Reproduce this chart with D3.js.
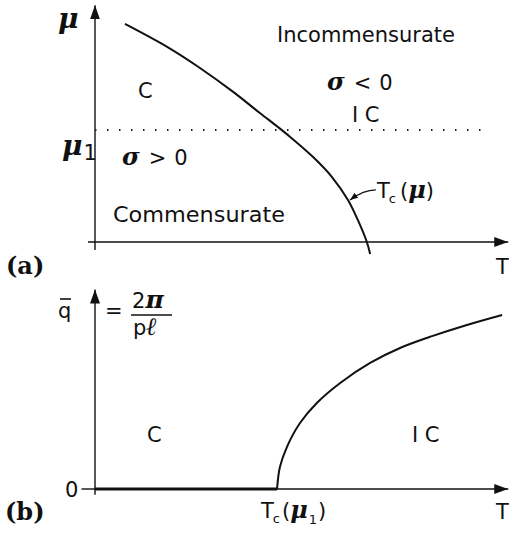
<!DOCTYPE html>
<html>
<head>
<meta charset="utf-8">
<script src="https://cdn.jsdelivr.net/npm/d3@7"></script>
<style>
  body { margin: 0; background: #fff; }
  svg text { fill: #111; }
  .sans { font-family: "DejaVu Sans", sans-serif; font-size: 21px; }
  .math { font-family: "DejaVu Serif", serif; font-style: italic; font-weight: bold; }
  .panel { font-family: "DejaVu Serif", serif; font-weight: bold; font-size: 24px; }
</style>
</head>
<body>
<div id="chart"></div>
<script>
// panel (a): phase boundary T_c(mu)
const curveA_T  = [0.073, 0.176, 0.256, 0.337, 0.402, 0.446, 0.476, 0.532, 0.578, 0.617, 0.641, 0.663, 0.671];
const curveA_mu = [0.940, 0.841, 0.750, 0.647, 0.556, 0.496, 0.453, 0.366, 0.280, 0.181, 0.095, 0.000, -0.052];
const mu1 = 0.483;

// panel (b): wave vector q(T) at mu = mu1
const curveB_T = [0.444, 0.451, 0.468, 0.500, 0.541, 0.598, 0.671, 0.744, 0.824, 0.907, 0.993];
const curveB_q = [0.000, 0.116, 0.222, 0.349, 0.455, 0.561, 0.667, 0.746, 0.810, 0.868, 0.921];
const TcMu1 = 0.444;

const width = 509, height = 537;
const svg = d3.select("#chart").append("svg")
    .attr("width", width).attr("height", height);

// arrowheads
const defs = svg.append("defs");
defs.append("marker")
    .attr("id", "arr")
    .attr("markerUnits", "userSpaceOnUse")
    .attr("viewBox", "0 0 14 10")
    .attr("refX", 14).attr("refY", 5)
    .attr("markerWidth", 14).attr("markerHeight", 10)
    .attr("orient", "auto")
  .append("path").attr("d", "M0,0 L14,5 L0,10 Z").attr("fill", "#111");
defs.append("marker")
    .attr("id", "arrSmall")
    .attr("markerUnits", "userSpaceOnUse")
    .attr("viewBox", "0 0 8 6")
    .attr("refX", 8).attr("refY", 3)
    .attr("markerWidth", 8).attr("markerHeight", 6)
    .attr("orient", "auto")
  .append("path").attr("d", "M0,0 L8,3 L0,6 Z").attr("fill", "#111");

const x = d3.scaleLinear().domain([0, 1]).range([95, 505]);
const yA = d3.scaleLinear().domain([0, 1]).range([242, 10]);
const yB = d3.scaleLinear().domain([0, 1]).range([489, 300]);

const line = (ys) => d3.line().x(d => x(d[0])).y(d => ys(d[1])).curve(d3.curveCatmullRom.alpha(0.5));

// ---------- panel (a) ----------
const gA = svg.append("g");
// axes
gA.append("line").attr("x1", x(-0.017)).attr("x2", x(1.008))
    .attr("y1", yA(0)).attr("y2", yA(0))
    .attr("stroke", "#111").attr("stroke-width", 1.4).attr("marker-end", "url(#arr)");
gA.append("line").attr("x1", x(0)).attr("x2", x(0))
    .attr("y1", yA(-0.035)).attr("y2", yA(1.02))
    .attr("stroke", "#111").attr("stroke-width", 1.4).attr("marker-end", "url(#arr)");
// dotted mu1 line
gA.append("line").attr("x1", x(0)).attr("x2", x(0.945))
    .attr("y1", yA(mu1)).attr("y2", yA(mu1))
    .attr("stroke", "#222").attr("stroke-width", 2)
    .attr("stroke-dasharray", "1.5,10.5").attr("stroke-linecap", "butt");
// boundary
gA.append("path").datum(d3.zip(curveA_T, curveA_mu))
    .attr("d", line(yA)).attr("fill", "none")
    .attr("stroke", "#111").attr("stroke-width", 2);

// leader for T_c(mu)
const tip = [curveA_T[9], curveA_mu[9]];
gA.append("path")
    .attr("d", `M${x(0.685)},${yA(0.225)} Q${x(0.655)},${yA(0.225)} ${x(tip[0]) + 2},${yA(tip[1])}`)
    .attr("fill", "none").attr("stroke", "#111").attr("stroke-width", 1.3)
    .attr("marker-end", "url(#arrSmall)");

// labels
gA.append("text").attr("class", "sans").attr("x", 277).attr("y", 42)
    .attr("textLength", 178).attr("lengthAdjust", "spacingAndGlyphs").text("Incommensurate");
gA.append("text").attr("class", "sans").attr("x", 113).attr("y", 222)
    .attr("textLength", 172).attr("lengthAdjust", "spacingAndGlyphs").text("Commensurate");
gA.append("text").attr("class", "sans").attr("x", 138).attr("y", 98).text("C");
gA.append("text").attr("class", "sans").attr("x", 352).attr("y", 122).text("I C");

const sigmaGt = gA.append("text").attr("class", "sans").attr("x", 122).attr("y", 165);
sigmaGt.append("tspan").attr("class", "math").attr("font-size", 24).text("σ");
sigmaGt.append("tspan").attr("dx", 9).text(">");
sigmaGt.append("tspan").attr("dx", 8).text("0");

const sigmaLt = gA.append("text").attr("class", "sans").attr("x", 327).attr("y", 90);
sigmaLt.append("tspan").attr("class", "math").attr("font-size", 24).text("σ");
sigmaLt.append("tspan").attr("dx", 9).text("<");
sigmaLt.append("tspan").attr("dx", 8).text("0");

gA.append("text").attr("class", "math").attr("font-size", 28).attr("x", 58).attr("y", 28).text("μ");
const mu1Lab = gA.append("text").attr("x", 62).attr("y", 155);
mu1Lab.append("tspan").attr("class", "math").attr("font-size", 28).text("μ");
mu1Lab.append("tspan").attr("class", "sans").attr("font-size", 13).attr("dy", 5).attr("dx", 1).text("1");

const tcLab = gA.append("text").attr("class", "sans").attr("x", 377).attr("y", 198);
tcLab.append("tspan").text("T");
tcLab.append("tspan").attr("font-size", 13).attr("dy", 5).attr("dx", -1).text("c");
tcLab.append("tspan").attr("dy", -5).attr("dx", 4).text("(");
tcLab.append("tspan").attr("class", "math").attr("font-size", 24).text("μ");
tcLab.append("tspan").text(")");

gA.append("text").attr("class", "panel").attr("x", 6).attr("y", 274).text("(a)");
gA.append("text").attr("class", "sans").attr("x", 496).attr("y", 274).text("T");

// ---------- panel (b) ----------
const gB = svg.append("g");
gB.append("line").attr("x1", x(0)).attr("x2", x(1.008))
    .attr("y1", yB(0)).attr("y2", yB(0))
    .attr("stroke", "#111").attr("stroke-width", 1.4).attr("marker-end", "url(#arr)");
gB.append("line").attr("x1", x(-0.033)).attr("x2", x(0))
    .attr("y1", yB(0)).attr("y2", yB(0))
    .attr("stroke", "#111").attr("stroke-width", 1.4);
gB.append("line").attr("x1", x(0)).attr("x2", x(0))
    .attr("y1", yB(-0.03)).attr("y2", yB(1.055))
    .attr("stroke", "#111").attr("stroke-width", 1.4).attr("marker-end", "url(#arr)");
// q = 0 in the commensurate phase
gB.append("line").attr("x1", x(0)).attr("x2", x(TcMu1))
    .attr("y1", yB(0)).attr("y2", yB(0))
    .attr("stroke", "#111").attr("stroke-width", 3);
gB.append("path").datum(d3.zip(curveB_T, curveB_q))
    .attr("d", line(yB)).attr("fill", "none")
    .attr("stroke", "#111").attr("stroke-width", 2);

// labels
gB.append("text").attr("class", "sans").attr("x", 58).attr("y", 318).text("q");
gB.append("line").attr("x1", 60).attr("x2", 71).attr("y1", 299).attr("y2", 299)
    .attr("stroke", "#111").attr("stroke-width", 1.6);
gB.append("text").attr("class", "sans").attr("x", 105).attr("y", 318).text("=");
const twoPi = gB.append("text").attr("class", "sans").attr("x", 132).attr("y", 308).attr("font-size", 22);
twoPi.append("tspan").text("2");
twoPi.append("tspan").attr("class", "math").attr("font-size", 25).text("π");
gB.append("line").attr("x1", 131).attr("x2", 172).attr("y1", 315).attr("y2", 315)
    .attr("stroke", "#111").attr("stroke-width", 1.5);
const plLab = gB.append("text").attr("class", "sans").attr("x", 133).attr("y", 335).attr("font-size", 22);
plLab.append("tspan").text("p");
plLab.append("tspan").attr("class", "math").attr("font-size", 25).text("ℓ");

gB.append("text").attr("class", "sans").attr("x", 147).attr("y", 442).text("C");
gB.append("text").attr("class", "sans").attr("x", 412).attr("y", 442).text("I C");
gB.append("text").attr("class", "sans").attr("x", 65).attr("y", 497).text("0");

const tc1 = gB.append("text").attr("class", "sans").attr("x", 261).attr("y", 518);
tc1.append("tspan").text("T");
tc1.append("tspan").attr("font-size", 13).attr("dy", 5).attr("dx", -1).text("c");
tc1.append("tspan").attr("dy", -5).attr("dx", 2).text("(");
tc1.append("tspan").attr("class", "math").attr("font-size", 24).text("μ");
tc1.append("tspan").attr("font-size", 13).attr("dy", 6).attr("dx", 1).text("1");
tc1.append("tspan").attr("dy", -6).attr("dx", 1).text(")");

gB.append("text").attr("class", "panel").attr("x", 5).attr("y", 520).text("(b)");
gB.append("text").attr("class", "sans").attr("x", 496).attr("y", 519).text("T");
</script>
</body>
</html>
